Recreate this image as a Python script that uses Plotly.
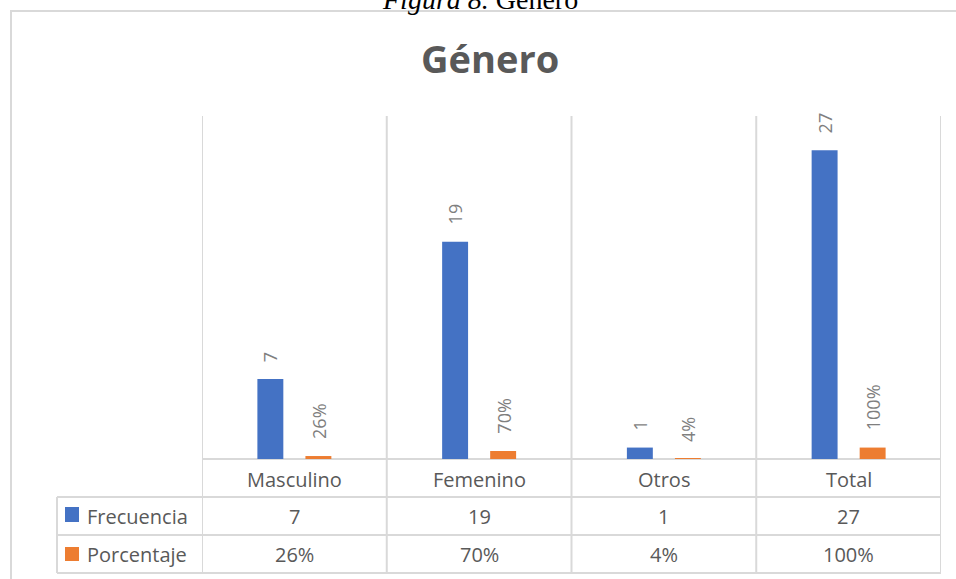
import plotly.graph_objects as go

# ---------------- data ----------------
categorias = ["Masculino", "Femenino", "Otros", "Total"]
frecuencia = [7, 19, 1, 27]
porcentaje = [0.26, 0.70, 0.04, 1.00]
series = ["Frecuencia", "Porcentaje"]
titulo = "Género"
leyenda_figura = "<i>Figura 8.</i> Género"

# ---------------- style ----------------
colores = ["#4472C4", "#ED7D31"]
GRID = "#d9d9d9"
TXT = "#595959"
LBL = "#7f7f7f"
FONT = "Open Sans"

W_FIG, H_FIG = 956, 579
L, R, T, B = 202, 15, 116, 120
PW = W_FIG - L - R
PH = H_FIG - T - B


def px(xp):
    return (xp - L) / PW


def py(yp):
    return (T + PH - yp) / PH


BARGAP = 0.48
GROUPGAP = 0.46

fig = go.Figure()
valores = [frecuencia, porcentaje]
for name, vals, col in zip(series, valores, colores):
    fig.add_bar(x=categorias, y=vals, name=name,
                marker=dict(color=col, line=dict(width=0)),
                showlegend=False, hoverinfo="x+y+name")

# data labels (rotated), placed above each bar
ncat = len(categorias)
cat_px = PW / ncat
slot = (1 - BARGAP) / len(series)
annotations = []
for si, vals in enumerate(valores):
    off = (si - (len(series) - 1) / 2) * slot * cat_px
    for c, v in zip(categorias, vals):
        txt = str(v) if si == 0 else f"{round(v * 100)}%"
        annotations.append(dict(x=c, y=v, xref="x", yref="y", text=txt,
                                textangle=-90, showarrow=False,
                                xanchor="center", yanchor="bottom",
                                xshift=off, yshift=15,
                                font=dict(family=FONT, size=18, color=LBL)))

# data table
row_y = [py(479), py(516), py(554)]
for c in categorias:
    annotations.append(dict(x=c, y=row_y[0], xref="x", yref="paper", text=c,
                            showarrow=False, xanchor="center", yanchor="middle",
                            font=dict(family=FONT, size=20, color=TXT)))
for c, v in zip(categorias, frecuencia):
    annotations.append(dict(x=c, y=row_y[1], xref="x", yref="paper", text=str(v),
                            showarrow=False, xanchor="center", yanchor="middle",
                            font=dict(family=FONT, size=20, color=TXT)))
for c, v in zip(categorias, porcentaje):
    annotations.append(dict(x=c, y=row_y[2], xref="x", yref="paper",
                            text=f"{round(v * 100)}%",
                            showarrow=False, xanchor="center", yanchor="middle",
                            font=dict(family=FONT, size=20, color=TXT)))
for name, yy in zip(series, row_y[1:]):
    annotations.append(dict(x=px(85), y=yy, xref="paper", yref="paper", text=name,
                            showarrow=False, xanchor="left", yanchor="middle",
                            font=dict(family=FONT, size=20, color=TXT)))

# titles
annotations.append(dict(x=px(489.5), y=py(58.5), xref="paper", yref="paper",
                        text=titulo, showarrow=False, xanchor="center", yanchor="middle",
                        font=dict(family=FONT, size=38, color=TXT, weight="bold")))
annotations.append(dict(x=px(480), y=py(-0.5), xref="paper", yref="paper",
                        text=leyenda_figura, showarrow=False, xanchor="center",
                        yanchor="middle",
                        font=dict(family="Liberation Serif", size=28, color="#000000")))

shapes = []
# outer chart border
shapes.append(dict(type="rect", xref="paper", yref="paper",
                   x0=px(11), x1=px(980), y0=py(11), y1=py(610),
                   line=dict(color=GRID, width=2), layer="below"))
# category dividers through plot and table
for k in range(ncat + 1):
    shapes.append(dict(type="line", xref="x", yref="paper",
                       x0=k - 0.5, x1=k - 0.5, y0=1, y1=py(573),
                       line=dict(color=GRID, width=2), layer="below"))
# table left border
shapes.append(dict(type="line", xref="paper", yref="paper",
                   x0=px(57), x1=px(57), y0=py(497), y1=py(573),
                   line=dict(color=GRID, width=2), layer="below"))
# axis line / header top
shapes.append(dict(type="line", xref="paper", yref="paper",
                   x0=0, x1=1, y0=0, y1=0,
                   line=dict(color=GRID, width=2), layer="below"))
for yy in [497, 535, 573]:
    shapes.append(dict(type="line", xref="paper", yref="paper",
                       x0=px(57), x1=1, y0=py(yy), y1=py(yy),
                       line=dict(color=GRID, width=2), layer="below"))
# legend keys in the table
for col, (y0, y1) in zip(colores, [(507, 522), (547, 561)]):
    shapes.append(dict(type="rect", xref="paper", yref="paper",
                       x0=px(65), x1=px(79), y0=py(y1), y1=py(y0),
                       fillcolor=col, line=dict(width=0), layer="above"))

fig.update_layout(
    width=W_FIG, height=H_FIG, autosize=False,
    margin=dict(l=L, r=R, t=T, b=B, pad=0),
    paper_bgcolor="white", plot_bgcolor="white",
    barmode="group", bargap=BARGAP, bargroupgap=GROUPGAP,
    xaxis=dict(range=[-0.5, ncat - 0.5], showgrid=False, showticklabels=False,
               zeroline=False, showline=False, ticks="", fixedrange=True),
    yaxis=dict(range=[0, 30], showgrid=False, showticklabels=False,
               zeroline=False, showline=False, ticks="", fixedrange=True),
    annotations=annotations, shapes=shapes,
    font=dict(family=FONT, color=TXT),
)

fig.write_html(
    "out.html",
    config={"displayModeBar": False},
    post_script="document.body.style.margin='0';document.body.style.overflow='hidden';",
)
